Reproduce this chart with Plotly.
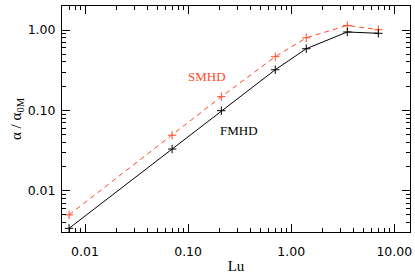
import numpy as np
import plotly.graph_objects as go

lu = [0.007, 0.07, 0.21, 0.7, 1.4, 3.5, 7.0]
fmhd = [0.0034, 0.033, 0.099, 0.32, 0.585, 0.945, 0.91]
smhd = [0.005, 0.049, 0.148, 0.465, 0.80, 1.14, 1.01]

x_ticks = [0.01, 0.1, 1, 10]
x_ticktext = ["0.01", "0.10", "1.00", "10.00"]
y_ticks = [0.01, 0.1, 1]
y_ticktext = ["0.01", "0.10", "1.00"]

red = "#FF4A28"
serif = "Liberation Serif, Times New Roman, serif"
sans = "DejaVu Sans, Verdana, sans-serif"

fig = go.Figure()
fig.add_trace(go.Scatter(x=lu, y=smhd, mode="lines+markers",
                         line=dict(color=red, width=1, dash="5px,4px"),
                         marker=dict(symbol="cross-thin", size=6, line=dict(color=red, width=1))))
fig.add_trace(go.Scatter(x=lu, y=fmhd, mode="lines+markers",
                         line=dict(color="black", width=1),
                         marker=dict(symbol="cross-thin", size=6, line=dict(color="black", width=1))))

minor_x = [m * 10.0 ** e for e in range(-3, 2) for m in range(2, 10)]
minor_y = [m * 10.0 ** e for e in range(-3, 1) for m in range(2, 10)]

axis_common = dict(type="log", showgrid=False, zeroline=False, showline=True,
                   linecolor="black", linewidth=1, mirror="allticks", automargin=False,
                   ticks="inside", ticklen=8, tickcolor="black", tickwidth=1,
                   tickfont=dict(family=sans, size=12.5, color="black"))

fig.update_xaxes(**axis_common, range=[np.log10(0.00598), np.log10(14.2)],
                 tickmode="array", tickvals=x_ticks, ticktext=x_ticktext, ticklabelstandoff=8,
                 minor=dict(tickmode="array", tickvals=minor_x, ticks="inside", ticklen=4,
                            tickcolor="black", showgrid=False),
                 title=dict(text="Lu", font=dict(family=serif, size=15, color="black"), standoff=2))
fig.update_yaxes(**axis_common, range=[np.log10(0.00306), np.log10(1.99)],
                 tickmode="array", tickvals=y_ticks, ticktext=y_ticktext, ticklabelstandoff=3,
                 minor=dict(tickmode="array", tickvals=minor_y, ticks="inside", ticklen=4,
                            tickcolor="black", showgrid=False),
                 title=dict(text="α / α<sub>0M</sub>", font=dict(family=serif, size=15, color="black"), standoff=2))

fig.add_annotation(x=np.log10(0.153), y=np.log10(0.267), text="SMHD", showarrow=False,
                   font=dict(family=serif, size=13, color=red))
fig.add_annotation(x=np.log10(0.31), y=np.log10(0.0569), text="FMHD", showarrow=False,
                   font=dict(family=serif, size=13, color="black"))

fig.update_layout(width=415, height=277, margin=dict(l=62, r=5, t=6, b=45),
                  plot_bgcolor="white", paper_bgcolor="white", showlegend=False)
fig.write_html("out.html", config={"displayModeBar": False},
               post_script="document.body.style.margin='0';document.body.style.overflow='hidden';")
